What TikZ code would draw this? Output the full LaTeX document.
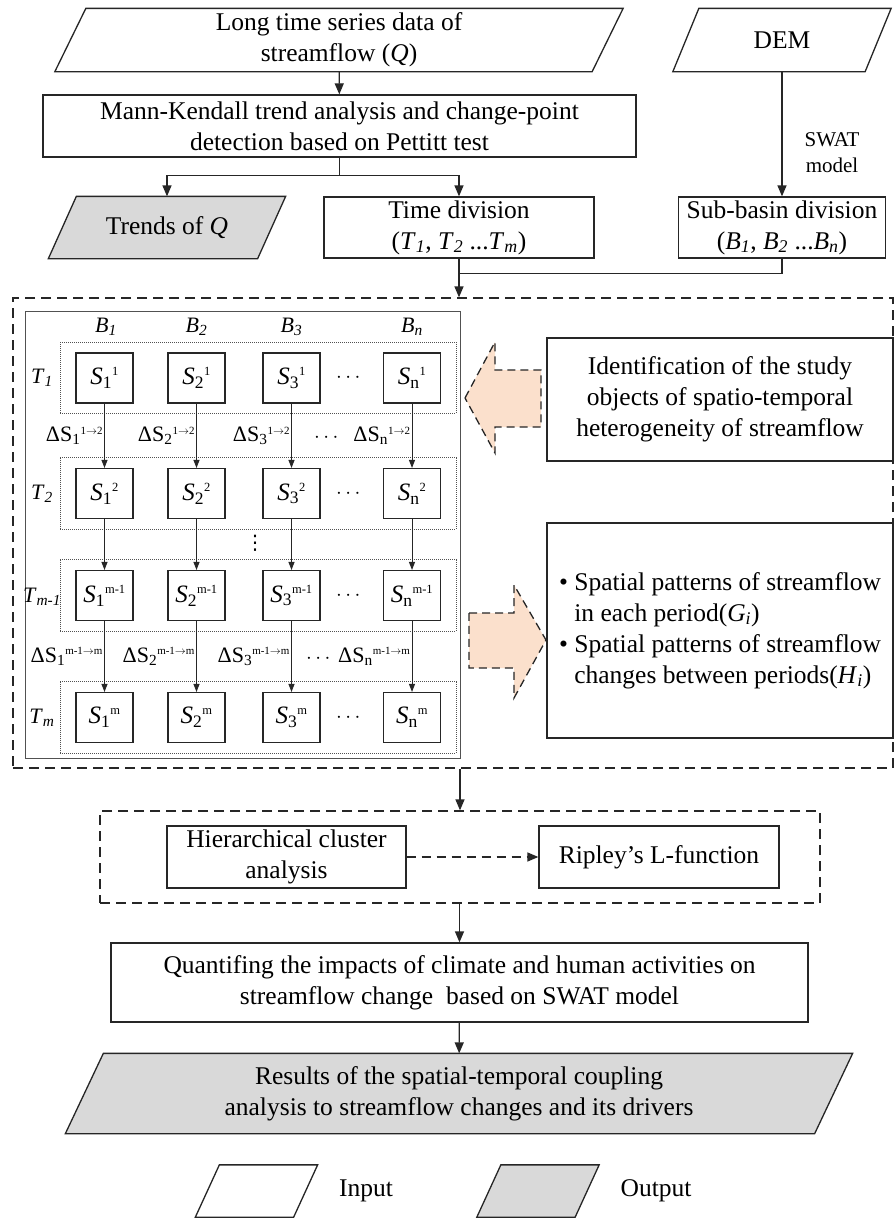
\documentclass[tikz,border=0pt]{standalone}
\usepackage{amsmath}
\usepackage{fontspec}
\setmainfont{Liberation Serif}
\newfontfamily\symbolfont{DejaVu Sans}
\usetikzlibrary{arrows.meta,positioning,shapes.geometric,fit,calc,backgrounds}
\definecolor{ink}{HTML}{262626}
\definecolor{shade}{HTML}{D9D9D9}
\definecolor{peach}{HTML}{FBE0CC}
\tikzset{
  base/.style={font=\fontsize{25.5}{31}\selectfont,align=center,draw=ink,line width=1.3pt,fill=white,inner sep=3pt},
  proc/.style={base,rectangle},
  slot/.style={base,draw=none,fill=none},
  inframe/.style={draw=ink,line width=1.3pt,fill=white,line join=miter},
  outframe/.style={inframe,fill=shade},
  cell/.style={base,font=\fontsize{25}{28}\selectfont,minimum width=57pt,minimum height=50pt,line width=1.1pt},
  rowframe/.style={draw=ink!80,densely dotted,line width=1pt,inner xsep=15pt,inner ysep=10pt},
  group/.style={draw=ink,line width=1.3pt,dash pattern=on 10pt off 6pt},
  hint/.style={font=\fontsize{21}{26}\selectfont,align=center,inner sep=2pt},
  lbl/.style={font=\fontsize{22}{26}\selectfont,inner sep=1pt},
  flow/.style={-{Triangle[length=11pt,width=9pt]},line width=1.3pt,draw=ink},
  link/.style={-{Triangle[length=8pt,width=6pt]},line width=1pt,draw=ink},
  block/.style={draw=ink,fill=peach,line width=1.3pt,dash pattern=on 8pt off 5pt,line join=miter}
}
% slanted input/output frame round a node: style, node, offset
\newcommand{\slantframe}[3]{\draw[#1] (#2.south west) -- ($(#2.north west)+(#3,0)$) -- (#2.north east) -- ($(#2.south east)-(#3,0)$) -- cycle;}
\newcommand{\sval}[2]{$\mathit{S}_{\scriptstyle\text{#1}}{}^{\scriptscriptstyle\text{#2}}$}
\newcommand{\dval}[2]{ΔS$_{\scriptstyle\text{#1}}{}^{\scriptscriptstyle #2}$}

\begin{document}
\begin{tikzpicture}[x=1pt,y=-1pt]
\begin{scope}[on background layer]
\fill[white] (0,0) rectangle (895,1218);
\end{scope}
\useasboundingbox (0,0) rectangle (895,1218);

% inputs and trend test
\node[slot,minimum width=567pt,minimum height=62pt] (series) at (339,40) {Long time series data of\\streamflow (\textit{Q})};
\node[slot,minimum width=217pt,minimum height=62pt] (dem) at (782,40) {DEM};
\node[proc,minimum width=593pt,minimum height=62pt] (mk) at (339.5,126) {Mann-Kendall trend analysis and change-point\\detection based on Pettitt test};
\node[slot,minimum width=236pt,minimum height=61pt] (trend) at (167,227.5) {Trends of \textit{Q}};
\node[proc,minimum width=270pt,minimum height=61pt] (timediv) at (459,227.5) {Time division\\(\textit{T}\textsubscript{\textit{1}}, \textit{T}\textsubscript{\textit{2}} ...\textit{T}\textsubscript{\textit{m}})};
\node[proc,minimum width=207pt,minimum height=61pt] (subdiv) at (782,227.5) {Sub-basin division\\(\textit{B}\textsubscript{\textit{1}}, \textit{B}\textsubscript{\textit{2}} ...\textit{B}\textsubscript{\textit{n}})};

\draw[flow] (series) -- (mk);
\draw[flow] (mk.south) -- ++(0,18) -| (trend.north);
\draw[flow] (mk.south) -- ++(0,18) -| (timediv.north);
\draw[flow] (dem) -- node[hint,right=20pt,pos=0.65]{SWAT\\model} (subdiv);

% spatio-temporal objects
\node[group,minimum width=880pt,minimum height=470pt] (analysis) at (453,533) {};
\node[draw=ink!80,line width=1pt,minimum width=435pt,minimum height=447pt] (grid) at (242.5,534.5) {};
\draw[ink,line width=1.3pt] (subdiv.south) |- ($(timediv.south)+(0,15)$);
\draw[flow] (timediv.south) -- (timediv.south |- analysis.north);

\node[lbl] (b1) at (106,327) {\textit{B}\textsubscript{\textit{1}}};
\node[lbl] (b2) at (196.5,327) {\textit{B}\textsubscript{\textit{2}}};
\node[lbl] (b3) at (291.5,327) {\textit{B}\textsubscript{\textit{3}}};
\node[lbl] (bn) at (412,327) {\textit{B}\textsubscript{\textit{n}}};

\node[cell] (s11) at (104.5,378) {\sval{1}{1}};
\node[cell] (s21) at (196.5,378) {\sval{2}{1}};
\node[cell] (s31) at (291.5,378) {\sval{3}{1}};
\node[cell] (sn1) at (412,378) {\sval{n}{1}};
\node[cell] (s12) at (104.5,493.5) {\sval{1}{2}};
\node[cell] (s22) at (196.5,493.5) {\sval{2}{2}};
\node[cell] (s32) at (291.5,493.5) {\sval{3}{2}};
\node[cell] (sn2) at (412,493.5) {\sval{n}{2}};
\node[cell] (s1p) at (104.5,595.5) {\sval{1}{m-1}};
\node[cell] (s2p) at (196.5,595.5) {\sval{2}{m-1}};
\node[cell] (s3p) at (291.5,595.5) {\sval{3}{m-1}};
\node[cell] (snp) at (412,595.5) {\sval{n}{m-1}};
\node[cell] (s1m) at (104.5,717.5) {\sval{1}{m}};
\node[cell] (s2m) at (196.5,717.5) {\sval{2}{m}};
\node[cell] (s3m) at (291.5,717.5) {\sval{3}{m}};
\node[cell] (snm) at (412,717.5) {\sval{n}{m}};

\node[rowframe,fit=(s11)(sn1)] (row1) {};
\node[rowframe,fit=(s12)(sn2)] (row2) {};
\node[rowframe,fit=(s1p)(snp)] (rowp) {};
\node[rowframe,fit=(s1m)(snm)] (rowm) {};

\node[lbl] (t1) at (42,378) {\textit{T}\textsubscript{\textit{1}}};
\node[lbl] (t2) at (42,493.5) {\textit{T}\textsubscript{\textit{2}}};
\node[lbl] (tp) at (42,597) {\textit{T}\textsubscript{\textit{m-1}}};
\node[lbl] (tm) at (42,717.5) {\textit{T}\textsubscript{\textit{m}}};

\node[lbl] (dots1) at (350,378) {$\cdots$};
\node[lbl] (dots2) at (350,493.5) {$\cdots$};
\node[lbl] (dotsp) at (350,595.5) {$\cdots$};
\node[lbl] (dotsm) at (350,717.5) {$\cdots$};
\node[lbl] (dotsa) at (328,438) {$\cdots$};
\node[lbl] (dotsb) at (320,659) {$\cdots$};
\node[lbl,font=\symbolfont\fontsize{20}{24}\selectfont] (vdots) at (255,543) {⋮};

\draw[link] (s11) -- node[lbl,left]{\dval{1}{\text{1}\to\text{2}}} (s12);
\draw[link] (s21) -- node[lbl,left]{\dval{2}{\text{1}\to\text{2}}} (s22);
\draw[link] (s31) -- node[lbl,left]{\dval{3}{\text{1}\to\text{2}}} (s32);
\draw[link] (sn1) -- node[lbl,left]{\dval{n}{\text{1}\to\text{2}}} (sn2);
\draw[link] (s12) -- (s1p);
\draw[link] (s22) -- (s2p);
\draw[link] (s32) -- (s3p);
\draw[link] (sn2) -- (snp);
\draw[link] (s1p) -- node[lbl,left]{\dval{1}{\text{m-1}\to\text{m}}} (s1m);
\draw[link] (s2p) -- node[lbl,left]{\dval{2}{\text{m-1}\to\text{m}}} (s2m);
\draw[link] (s3p) -- node[lbl,left]{\dval{3}{\text{m-1}\to\text{m}}} (s3m);
\draw[link] (snp) -- node[lbl,left]{\dval{n}{\text{m-1}\to\text{m}}} (snm);

% explanations on the right
\node[proc,minimum width=346pt,minimum height=123pt] (ident) at (720,399.5) {Identification of the study\\objects of spatio-temporal\\heterogeneity of streamflow};
\node[proc,minimum width=346pt,minimum height=215pt] (pattern) at (720,630.5) {\begin{tabular}{@{}l@{\ }l@{}}
\textbullet & Spatial patterns of streamflow\\
 & in each period(\textit{G}\textsubscript{\textit{i}})\\
\textbullet & Spatial patterns of streamflow\\
 & changes between periods(\textit{H}\textsubscript{\textit{i}})
\end{tabular}};
\draw[block] (465,398) -- (495,342) -- (495,370) -- (541,370) -- (541,427) -- (495,427) -- (495,453) -- cycle;
\draw[block] (469,613) -- (514,613) -- (514,585) -- (546,640) -- (514,698) -- (514,668) -- (469,668) -- cycle;

% clustering and attribution
\node[group,minimum width=720pt,minimum height=92pt] (cluster) at (460,857) {};
\node[proc,minimum width=239pt,minimum height=62pt] (hca) at (286.5,857) {Hierarchical cluster\\analysis};
\node[proc,minimum width=240pt,minimum height=62pt] (ripley) at (659,857) {Ripley’s L-function};
\node[proc,minimum width=697pt,minimum height=79pt] (impact) at (459.5,982.5) {Quantifing the impacts of climate and human activities on\\streamflow change\ \ based on SWAT model};
\node[slot,minimum width=786pt,minimum height=79pt] (result) at (459,1093.5) {Results of the spatial-temporal coupling\\analysis to streamflow changes and its drivers};

\draw[flow] (cluster.north |- analysis.south) -- (cluster.north);
\draw[flow,dash pattern=on 9pt off 6pt] (hca) -- (ripley);
\draw[flow] (cluster.south -| impact.north) -- (impact.north);
\draw[flow] (impact) -- (result);

% legend
\node[slot,minimum width=121pt,minimum height=51pt] (keyin) at (256.5,1191) {};
\node[slot] (keyintxt) at (366,1191) {Input};
\node[slot,minimum width=121pt,minimum height=51pt] (keyout) at (538,1191) {};
\node[slot] (keyouttxt) at (656,1191) {Output};

\begin{scope}[on background layer]
\slantframe{inframe}{series}{31}
\slantframe{inframe}{dem}{26}
\slantframe{outframe}{trend}{28}
\slantframe{outframe}{result}{38}
\slantframe{inframe}{keyin}{24}
\slantframe{outframe}{keyout}{24}
\end{scope}
\end{tikzpicture}
\end{document}
